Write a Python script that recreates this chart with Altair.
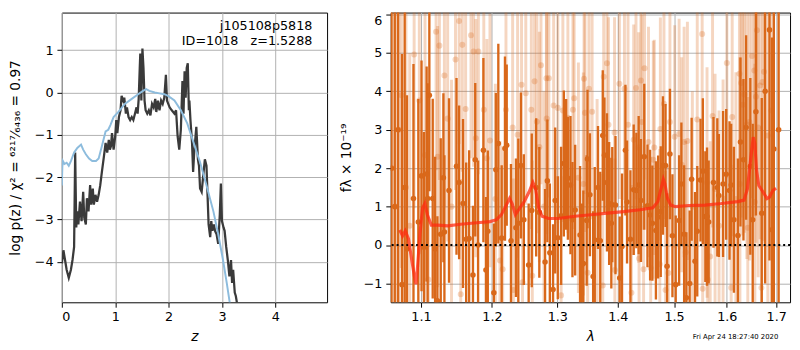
import altair as alt
import pandas as pd

FONT = "DejaVu Sans"

# ---------------- left panel: p(z) ----------------
pz_z = [0.00, 0.03, 0.06, 0.09, 0.13, 0.17, 0.20, 0.23, 0.25, 0.27,
        0.29, 0.31, 0.34, 0.37, 0.40, 0.42, 0.45, 0.47, 0.50, 0.53,
        0.55, 0.58, 0.60, 0.63, 0.66, 0.69, 0.72, 0.75, 0.79, 0.82,
        0.85, 0.88, 0.90, 0.92, 0.94, 0.97, 1.00, 1.02, 1.04, 1.07,
        1.10, 1.12, 1.15, 1.17, 1.20, 1.22, 1.25, 1.28, 1.31, 1.34,
        1.37, 1.40, 1.42, 1.44, 1.46, 1.47, 1.49, 1.51, 1.53, 1.55,
        1.57, 1.60, 1.63, 1.66, 1.69, 1.72, 1.75, 1.77, 1.80, 1.83,
        1.86, 1.89, 1.92, 1.95, 1.97, 2.02, 2.06, 2.11, 2.14, 2.17,
        2.20, 2.23, 2.26, 2.28, 2.30, 2.32, 2.34, 2.36, 2.38, 2.39,
        2.41, 2.44, 2.46, 2.48, 2.52, 2.55, 2.57, 2.59, 2.62, 2.65,
        2.68, 2.71, 2.73, 2.75, 2.78, 2.80, 2.82, 2.85, 2.87, 2.90,
        2.93, 2.96, 2.98, 3.00, 3.03, 3.05, 3.08, 3.11, 3.14, 3.17,
        3.19, 3.21, 3.24, 3.26, 3.29, 3.30]
pz_logp = [-4.04, -3.73, -3.96, -4.19, -4.38, -4.19, -3.96, -3.65, -1.42, -3.19,
           -2.81, -3.12, -2.58, -3.04, -2.35, -2.96, -3.12, -2.50, -2.81, -2.19,
           -2.65, -2.27, -2.65, -2.42, -2.58, -2.42, -2.19, -1.88, -1.50, -1.19,
           -1.42, -1.12, -1.35, -1.27, -0.96, -1.35, -1.04, -0.65, -0.96, -0.58,
           -0.42, -0.08, -0.19, -0.12, -0.50, -0.35, -0.58, -0.65, -0.58, -0.65,
           -0.50, -0.35, -0.50, -0.15, 0.58, 0.92, -0.19, 1.04, 0.58, -0.19,
           -0.42, -0.50, -0.42, -0.54, -0.27, -0.35, -0.15, -0.46, -0.19, -0.42,
           -0.19, -0.27, -0.12, 0.42, -0.19, -0.35, -0.42, -0.50, -0.42, -1.04,
           -1.35, -0.88, 0.27, -0.50, 0.50, -0.12, 0.58, 0.69, -0.42, -0.19,
           -0.65, -1.19, -1.88, -1.42, -0.81, -1.58, -1.73, -2.27, -2.35, -1.96,
           -1.58, -1.73, -2.42, -3.12, -3.42, -3.04, -3.27, -3.12, -3.27, -3.35,
           -3.58, -2.88, -2.15, -3.04, -3.19, -3.27, -3.65, -3.96, -4.35, -3.96,
           -4.50, -4.19, -4.73, -4.81, -5.04, -5.30]

prior_z = [0.00, 0.01, 0.02, 0.05, 0.09, 0.13, 0.17, 0.23, 0.29, 0.36,
           0.40, 0.45, 0.51, 0.57, 0.64, 0.69, 0.75, 0.82, 0.87, 0.91,
           0.97, 1.06, 1.18, 1.31, 1.43, 1.52, 1.58, 1.64, 1.74, 1.83,
           1.92, 1.99, 2.11, 2.23, 2.35, 2.47, 2.59, 2.71, 2.84, 2.93,
           3.02, 3.09, 3.15, 3.17]
prior_logp = [-2.20, -1.75, -1.62, -1.69, -1.66, -1.73, -1.62, -1.42, -1.31, -1.23,
              -1.35, -1.46, -1.56, -1.62, -1.62, -1.56, -1.27, -0.92, -0.88, -0.77,
              -0.58, -0.46, -0.27, -0.15, -0.04, 0.04, 0.08, 0.04, 0.00, -0.02,
              -0.04, -0.08, -0.19, -0.42, -0.73, -1.19, -1.65, -2.19, -2.81, -3.35,
              -3.96, -4.50, -5.00, -5.20]

z_ticks = [0, 1, 2, 3, 4]
logp_ticks = [-4, -3, -2, -1, 0, 1]
label_root = "j105108p5818"
label_id = "ID=1018\u00a0\u00a0\u00a0z=1.5288"

# ---------------- right panel: spectrum ----------------
dark_lam = [1.0610, 1.0653, 1.0696, 1.0748, 1.0783, 1.0813, 1.0900, 1.0965, 1.1008, 1.1041,
            1.1077, 1.1091, 1.1114, 1.1160, 1.1193, 1.1224, 1.1270, 1.1307, 1.1321, 1.1385,
            1.1490, 1.1527, 1.1582, 1.1627, 1.1669, 1.1724, 1.1757, 1.1798, 1.1875, 1.1912,
            1.1939, 1.2028, 1.2058, 1.2094, 1.2144, 1.2193, 1.2219, 1.2283, 1.2358, 1.2394,
            1.2433, 1.2478, 1.2552, 1.2600, 1.2668, 1.2717, 1.2807, 1.2843, 1.2882, 1.2933,
            1.2967, 1.3008, 1.3061, 1.3105, 1.3142, 1.3170, 1.3212, 1.3244, 1.3288, 1.3368,
            1.3396, 1.3422, 1.3477, 1.3490, 1.3530, 1.3584, 1.3611, 1.3665, 1.3703, 1.3745,
            1.3773, 1.3816, 1.3853, 1.3890, 1.3906, 1.3961, 1.4033, 1.4073, 1.4132, 1.4160,
            1.4219, 1.4276, 1.4323, 1.4363, 1.4403, 1.4462, 1.4519, 1.4566, 1.4606, 1.4670,
            1.4710, 1.4757, 1.4797, 1.4844, 1.4872, 1.4924, 1.4970, 1.5030, 1.5093, 1.5135,
            1.5186, 1.5228, 1.5289, 1.5326, 1.5390, 1.5432, 1.5494, 1.5538, 1.5586, 1.5618,
            1.5649, 1.5742, 1.5816, 1.5846, 1.5928, 1.5989, 1.6054, 1.6087, 1.6141, 1.6220,
            1.6271, 1.6331, 1.6384, 1.6469, 1.6517, 1.6582, 1.6701, 1.6770, 1.6860, 1.6913,
            1.6950, 1.7050]
dark_flux = [2.00, 1.00, 3.00, -1.03, 1.50, -0.10, 1.21, 0.60, 1.80, -0.06,
             1.85, 1.21, 3.90, 1.21, -0.10, -1.45, 0.28, 1.75, 0.34, 1.42,
             2.05, 1.63, 1.08, 0.15, 0.17, -0.78, 2.22, 0.00, 2.47, -0.65,
             0.36, -1.24, 1.96, 2.64, 0.18, 2.51, 2.60, 0.11, 0.45, 0.57,
             2.07, 0.66, -0.52, 0.90, 1.50, 0.85, -0.44, 1.67, -0.20, -1.16,
             1.16, 0.19, 0.76, 2.12, 2.10, 1.74, 1.56, 0.66, 0.91, 0.26,
             -0.52, -0.48, 0.64, 2.24, 1.31, -0.82, 0.13, 1.50, 0.11, 2.85,
             2.34, 1.63, 1.08, 0.57, 1.05, 1.04, -0.86, -0.04, 2.47, 1.12,
             0.15, 1.44, 1.42, 1.56, 1.16, 2.30, 1.02, 0.78, 0.57, 0.38,
             0.73, 0.87, 2.07, 2.07, -0.55, 2.37, 0.24, -1.03, 0.64, 1.59,
             0.28, -1.37, -1.00, 1.71, -0.42, 0.36, 1.69, 1.92, 0.74, 0.74,
             0.60, 1.63, 1.50, 1.29, 1.59, 1.84, 1.42, 1.56, 0.66, 0.25,
             2.68, 2.22, 3.06, 2.05, 0.66, 3.47, 0.83, 4.00, 5.60, 0.40,
             2.50, 3.00]
dark_err = [8.0, 8.0, 7.0, 6.0, 6.0, 4.0, 3.5, 3.2, 3.0, 3.0,
            2.8, 3.0, 2.5, 2.6, 2.4, 2.2, 2.5, 2.2, 2.0, 2.4,
            2.3, 2.0, 2.2, 2.0, 2.3, 1.8, 2.0, 2.2, 2.4, 1.9,
            2.1, 1.8, 2.0, 2.6, 1.9, 2.4, 2.1, 2.0, 1.8, 2.2,
            1.9, 1.7, 1.6, 2.0, 1.8, 1.7, 1.9, 1.6, 1.8, 1.7,
            1.9, 1.6, 1.8, 1.9, 1.7, 1.6, 1.8, 1.5, 1.7, 1.8,
            1.6, 1.9, 1.7, 1.8, 1.6, 1.7, 1.9, 1.6, 1.8, 1.7,
            1.5, 1.8, 1.6, 1.7, 1.5, 1.8, 1.6, 1.9, 1.7, 1.6,
            1.8, 1.7, 1.5, 1.8, 1.6, 1.9, 1.6, 1.7, 1.5, 1.8,
            1.6, 1.7, 1.8, 1.6, 1.9, 1.7, 1.6, 1.8, 1.7, 1.6,
            1.8, 1.7, 1.9, 1.6, 1.8, 1.7, 1.6, 1.9, 1.7, 1.8,
            1.6, 1.7, 1.8, 1.6, 1.9, 1.7, 1.8, 1.6, 1.9, 2.0,
            2.2, 2.1, 2.4, 2.3, 2.5, 2.7, 3.0, 5.0, 6.0, 5.0,
            8.0, 9.0]

light_lam = [1.0620, 1.0665, 1.0705, 1.0740, 1.0800, 1.0850, 1.0909, 1.0978, 1.1055, 1.1100,
             1.1206, 1.1228, 1.1252, 1.1321, 1.1366, 1.1420, 1.1476, 1.1527, 1.1550, 1.1572,
             1.1619, 1.1696, 1.1733, 1.1765, 1.1802, 1.1881, 1.1926, 1.1971, 1.2050, 1.2118,
             1.2159, 1.2208, 1.2308, 1.2319, 1.2383, 1.2443, 1.2458, 1.2508, 1.2593, 1.2608,
             1.2643, 1.2679, 1.2718, 1.2743, 1.2790, 1.2828, 1.2833, 1.2867, 1.2942, 1.3008,
             1.3061, 1.3089, 1.3170, 1.3251, 1.3272, 1.3341, 1.3422, 1.3433, 1.3449, 1.3493,
             1.3514, 1.3567, 1.3650, 1.3745, 1.3761, 1.3816, 1.3842, 1.3945, 1.3950, 1.4028,
             1.4115, 1.4177, 1.4236, 1.4276, 1.4316, 1.4363, 1.4370, 1.4403, 1.4420, 1.4450,
             1.4467, 1.4537, 1.4576, 1.4623, 1.4641, 1.4740, 1.4750, 1.4815, 1.4844, 1.4896,
             1.4924, 1.5011, 1.5093, 1.5141, 1.5186, 1.5216, 1.5247, 1.5340, 1.5432, 1.5525,
             1.5535, 1.5618, 1.5631, 1.5679, 1.5724, 1.5772, 1.5850, 1.5928, 1.6002, 1.6087,
             1.6107, 1.6180, 1.6251, 1.6260, 1.6285, 1.6318, 1.6350, 1.6398, 1.6418, 1.6450,
             1.6503, 1.6549, 1.6560, 1.6582, 1.6602, 1.6628, 1.6668, 1.6695, 1.6715, 1.6747,
             1.6826, 1.6900]
light_flux = [2.00, 1.00, 3.00, 3.90, 1.50, 0.50, 4.96, 3.76, 2.34, -0.90,
              5.55, 2.30, 5.19, 4.41, 3.29, 1.00, 4.83, 5.83, -1.28, 5.21,
              3.54, 5.46, 5.04, 2.78, 5.04, 3.52, 2.26, 2.72, 1.20, -0.40,
              -0.63, 3.52, 3.06, -1.17, 2.87, 4.17, -0.97, 3.95, 3.52, -0.80,
              4.26, 3.21, 2.55, 4.68, 1.00, 4.34, 3.29, 4.34, 3.63, 3.57,
              -1.31, 3.50, 3.31, 3.52, 3.82, 1.75, 1.59, 4.33, 3.44, -0.72,
              4.07, 3.47, 0.80, -1.05, 4.38, 4.73, 3.13, 2.93, -0.65, 4.20,
              4.07, 3.13, -1.24, 2.74, 4.09, 2.54, -0.35, 4.28, 3.20, -0.63,
              4.60, 2.68, -0.60, 2.22, 2.54, -0.50, 3.02, 3.68, -1.17, -0.73,
              3.20, 2.82, 2.89, 2.09, 2.68, -0.19, 2.71, 1.00, 3.27, 5.49,
              -1.14, 1.63, -0.90, -0.30, 3.36, 1.46, 0.50, 1.21, 4.74, -1.11,
              3.33, 1.20, 4.46, 1.59, 4.22, 3.65, 3.92, 3.14, 0.45, 3.20,
              4.92, 4.54, 1.12, 3.86, 5.59, 3.06, 4.15, -1.11, 4.24, 4.51,
              2.85, 3.50]
light_err = [6.0, 6.0, 5.5, 4.5, 5.0, 4.5, 4.0, 4.0, 3.8, 3.5,
             3.6, 3.4, 3.5, 3.4, 3.2, 3.3, 3.4, 3.2, 3.0, 3.3,
             3.1, 3.2, 3.0, 3.1, 3.2, 3.0, 3.1, 3.3, 3.0, 3.1,
             3.2, 3.0, 3.1, 2.9, 3.2, 3.0, 3.1, 2.9, 3.1, 3.0,
             3.2, 2.9, 3.0, 3.1, 3.0, 2.9, 3.0, 3.1, 2.9, 3.0,
             3.1, 2.9, 3.0, 3.1, 2.8, 3.0, 2.9, 3.0, 3.1, 2.9,
             3.0, 2.8, 3.0, 2.9, 3.0, 3.1, 2.8, 3.0, 2.9, 3.0,
             2.9, 3.1, 2.8, 3.0, 2.9, 3.0, 2.9, 3.1, 2.8, 3.0,
             2.9, 3.0, 2.9, 3.1, 2.8, 3.0, 2.9, 3.0, 3.1, 2.8,
             3.0, 2.9, 3.0, 2.8, 3.0, 2.9, 3.1, 3.0, 2.9, 3.0,
             2.9, 3.0, 2.8, 3.0, 2.9, 3.0, 3.0, 3.1, 3.0, 3.2,
             3.1, 3.3, 3.4, 3.3, 3.5, 3.4, 3.6, 3.5, 3.4, 3.6,
             3.7, 3.8, 3.6, 3.8, 4.0, 3.9, 4.0, 4.2, 4.2, 4.4,
             4.6, 5.0]

model_lam = [1.0718, 1.0756, 1.0791, 1.0834, 1.0877, 1.0912, 1.0934, 1.0955, 1.0987, 1.1021,
             1.1053, 1.1087, 1.1141, 1.1230, 1.1366, 1.1548, 1.1781, 1.1971, 1.2067, 1.2140,
             1.2213, 1.2261, 1.2300, 1.2349, 1.2400, 1.2483, 1.2558, 1.2617, 1.2659, 1.2708,
             1.2760, 1.2861, 1.3016, 1.3281, 1.3548, 1.3821, 1.4100, 1.4385, 1.4616, 1.4704,
             1.4761, 1.4804, 1.4832, 1.4881, 1.4939, 1.5029, 1.5272, 1.5578, 1.5893, 1.6214,
             1.6343, 1.6410, 1.6474, 1.6528, 1.6560, 1.6593, 1.6640, 1.6708, 1.6809, 1.6861,
             1.6929, 1.6997]
model_flux = [0.39, 0.24, 0.37, 0.16, -0.39, -0.81, -1.02, -0.55, 0.29, 0.96,
              1.08, 0.79, 0.52, 0.52, 0.50, 0.54, 0.58, 0.61, 0.66, 0.79,
              1.04, 1.21, 1.08, 0.79, 0.92, 1.13, 1.38, 1.63, 1.46, 0.96,
              0.75, 0.69, 0.69, 0.75, 0.79, 0.83, 0.87, 0.92, 0.97, 1.13,
              1.46, 1.71, 1.59, 1.21, 1.04, 1.00, 1.03, 1.04, 1.08, 1.13,
              1.17, 1.46, 2.22, 2.81, 2.64, 1.97, 1.55, 1.42, 1.21, 1.25,
              1.42, 1.48]

lam_ticks = [1.1, 1.2, 1.3, 1.4, 1.5, 1.6, 1.7]
flux_ticks = [-1, 0, 1, 2, 3, 4, 5, 6]
timestamp = "Fri Apr 24 18:27:40 2020"

assert len(pz_z) == len(pz_logp)
assert len(prior_z) == len(prior_logp)
assert len(dark_lam) == len(dark_flux) == len(dark_err)
assert len(light_lam) == len(light_flux) == len(light_err)
assert len(model_lam) == len(model_flux)

# ---------------- build charts ----------------
W_L, W_R, H = 271, 408, 296
DARK = "#d9681a"

pz_df = pd.DataFrame({"z": pz_z, "logp": pz_logp})
prior_df = pd.DataFrame({"z": prior_z, "logp": prior_logp})

zx = alt.X("z:Q", scale=alt.Scale(domain=[0, 4.97], nice=False, zero=False),
           axis=alt.Axis(values=z_ticks, format="d", title="z", titleFontStyle="italic",
                         titlePadding=6))
zy = alt.Y("logp:Q", scale=alt.Scale(domain=[-4.96, 1.89], nice=False, zero=False),
           axis=alt.Axis(values=logp_ticks, format="d",
                         title="log p(z) / χ² = ⁶²¹⁷⁄₆₄₃₆ = 0.97", titlePadding=12))

black_line = alt.Chart(pz_df).mark_line(color="#3a3a3a", strokeWidth=2.3, clip=True).encode(
    x=zx, y=zy, order="z:Q")
blue_line = alt.Chart(prior_df).mark_line(color="#8dbcdd", strokeWidth=2, clip=True).encode(
    x=zx, y=zy, order="z:Q")

one = pd.DataFrame({"a": [0]})
txt1 = alt.Chart(one).mark_text(text=label_root, align="right", baseline="middle",
                                fontSize=13, font=FONT, color="black").encode(
    x=alt.value(256), y=alt.value(14))
txt2 = alt.Chart(one).mark_text(text=label_id, align="right", baseline="middle",
                                fontSize=13, font=FONT, color="black").encode(
    x=alt.value(256), y=alt.value(29))

left = alt.layer(black_line, blue_line, txt1, txt2).properties(width=W_L, height=H)

dark_df = pd.DataFrame({"lam": dark_lam, "flux": dark_flux, "err": dark_err})
dark_df["lo"] = dark_df["flux"] - dark_df["err"]
dark_df["hi"] = dark_df["flux"] + dark_df["err"]
light_df = pd.DataFrame({"lam": light_lam, "flux": light_flux, "err": light_err})
light_df["lo"] = light_df["flux"] - light_df["err"]
light_df["hi"] = light_df["flux"] + light_df["err"]
model_df = pd.DataFrame({"lam": model_lam, "flux": model_flux})

xsc = alt.Scale(type="log", domain=[1.06, 1.729], nice=False)
ysc = alt.Scale(domain=[-1.49, 6.05], nice=False, zero=False)
xax = alt.Axis(values=lam_ticks, format=".1f", title="λ", titleFontStyle="italic",
               titlePadding=6)
yax = alt.Axis(values=flux_ticks, format="d", title="fλ × 10⁻¹⁹", titlePadding=10,
               labelFlush=4)

lx = alt.X("lam:Q", scale=xsc, axis=xax)

light_bars = alt.Chart(light_df).mark_rule(color=DARK, opacity=0.27, strokeWidth=3,
                                            clip=True).encode(
    x=lx, y=alt.Y("lo:Q", scale=ysc, axis=yax), y2="hi:Q")
light_pts = alt.Chart(light_df).mark_circle(color=DARK, opacity=0.27, size=38,
                                             clip=True).encode(
    x=lx, y=alt.Y("flux:Q", scale=ysc, axis=yax))
dark_bars = alt.Chart(dark_df).mark_rule(color=DARK, opacity=1, strokeWidth=2.4,
                                          clip=True).encode(
    x=lx, y=alt.Y("lo:Q", scale=ysc, axis=yax), y2="hi:Q")
dark_pts = alt.Chart(dark_df).mark_circle(color=DARK, opacity=1, size=32,
                                           clip=True).encode(
    x=lx, y=alt.Y("flux:Q", scale=ysc, axis=yax))
zero_line = alt.Chart(pd.DataFrame({"flux": [0]})).mark_rule(
    color="black", strokeDash=[2, 3], strokeWidth=2).encode(
    y=alt.Y("flux:Q", scale=ysc, axis=yax))
model_line = alt.Chart(model_df).mark_line(color="#ff2a10", opacity=0.75, strokeWidth=3.2,
                                            clip=True).encode(
    x=lx, y=alt.Y("flux:Q", scale=ysc, axis=yax), order="lam:Q")
stamp = alt.Chart(one).mark_text(text=timestamp, align="right", baseline="middle",
                                 fontSize=7, font=FONT, color="black").encode(
    x=alt.value(396), y=alt.value(331))

right = alt.layer(light_bars, light_pts, dark_bars, dark_pts, zero_line, model_line,
                  stamp).properties(width=W_R, height=H)

chart = alt.HConcatChart(hconcat=[left, right], spacing=65, bounds="flush").properties(
    padding={"left": 0, "top": 0, "right": 0, "bottom": 0}
).configure_view(
    stroke="black", strokeWidth=1
).configure_axis(
    grid=True, gridColor="#b0b0b0", gridWidth=1,
    domain=False, tickColor="black", tickSize=5, tickWidth=1,
    labelFont=FONT, labelFontSize=13, labelColor="black", labelPadding=4,
    titleFont=FONT, titleFontSize=14, titleColor="black", titleFontWeight="normal"
)

chart.save("out.html", embed_options={"renderer": "svg", "actions": False})
